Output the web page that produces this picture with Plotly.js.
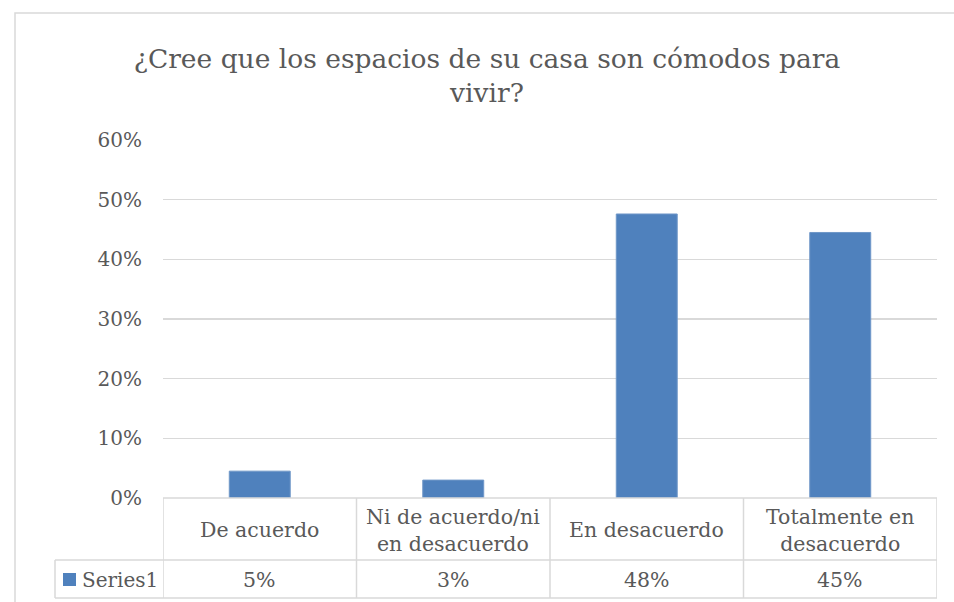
<!DOCTYPE html>
<html>
<head>
<meta charset="utf-8">
<script src="https://cdn.plot.ly/plotly-3.0.1.min.js"></script>
<style>html,body{margin:0;padding:0;background:#fff;}#chart{width:954px;height:602px;}</style>
</head>
<body>
<div id="chart"></div>
<script>
// ---- data ----
const categories = ["De acuerdo", "Ni de acuerdo/ni en desacuerdo", "En desacuerdo", "Totalmente en desacuerdo"];
const categoryLabels = ["De acuerdo", "Ni de acuerdo/ni<br>en desacuerdo", "En desacuerdo", "Totalmente en<br>desacuerdo"];
const seriesName = "Series1";
const seriesValues = [0.045, 0.03, 0.476, 0.445];
const tableValueLabels = ["5%", "3%", "48%", "45%"];
const titleText = "¿Cree que los espacios de su casa son cómodos para<br>vivir?";

// ---- layout geometry ----
const W = 954, H = 602;
const ML = 163, MR = 17, MT = 140, MB = 104;
const PW = W - ML - MR, PH = H - MT - MB;
const px = x => (x - ML) / PW;
const py = y => (H - MB - y) / PH;

const font = "DejaVu Serif";
const grey = "#595959";
const lineCol = "#d9d9d9";
const barCol = "#4f81bd";

const trace = {
  type: "bar",
  x: categories.map((c, i) => i),
  y: seriesValues,
  name: seriesName,
  width: 0.315,
  marker: { color: barCol, line: { color: "#6f97c8", width: 1 } },
  hoverinfo: "skip",
  showlegend: false
};

const shapes = [];
const hline = (x0, x1, y, xref) => shapes.push({ type: "line", xref: xref || "paper", yref: "paper",
  x0: x0, x1: x1, y0: py(y), y1: py(y), line: { color: lineCol, width: 1.5 } });
const vline = (x, y0, y1, xref) => shapes.push({ type: "line", xref: xref || "paper", yref: "paper",
  x0: x, x1: x, y0: py(y0), y1: py(y1), line: { color: lineCol, width: 1.5 } });

// data table grid
hline(px(ML), 1, 498);
hline(px(55), 1, 560);
hline(px(55), 1, 598);
vline(px(55), 560, 598);
for (let i = 0; i <= categories.length; i++) vline(i - 0.5, 498, 598, "x");
// outer chart border
shapes.push({ type: "rect", xref: "paper", yref: "paper", x0: px(15), x1: px(960), y0: py(610), y1: py(13),
  line: { color: lineCol, width: 1.5 }, fillcolor: "rgba(0,0,0,0)", layer: "below" });
// legend key
shapes.push({ type: "rect", xref: "paper", yref: "paper", x0: px(63), x1: px(76), y0: py(586), y1: py(573),
  line: { width: 0 }, fillcolor: barCol });

const annotations = [];
categoryLabels.forEach((lab, i) => annotations.push({
  x: i, xref: "x", y: py(530), yref: "paper", text: lab, showarrow: false,
  xanchor: "center", yanchor: "middle", font: { family: font, size: 20.5, color: grey }
}));
tableValueLabels.forEach((lab, i) => annotations.push({
  x: i, xref: "x", y: py(580), yref: "paper", text: lab, showarrow: false,
  xanchor: "center", yanchor: "middle", font: { family: font, size: 20.5, color: grey }
}));
annotations.push({ x: px(80), xref: "paper", y: py(580), yref: "paper", text: seriesName, showarrow: false,
  xanchor: "left", yanchor: "middle", font: { family: font, size: 20, color: grey } });

const layout = {
  width: W, height: H,
  margin: { l: ML, r: MR, t: MT, b: MB, pad: 0 },
  paper_bgcolor: "#fff", plot_bgcolor: "#fff",
  font: { family: font, color: grey },
  title: { text: titleText, x: 487 / W, xanchor: "center", xref: "container",
    y: 1 - 68 / H, yanchor: "top", yref: "container",
    font: { family: font, size: 26.5, color: grey } },
  xaxis: { range: [-0.5, 3.5], showticklabels: false, showgrid: false, zeroline: false, showline: false, ticks: "" },
  yaxis: { range: [0, 0.6], dtick: 0.1, tick0: 0, tickformat: ".0%", showgrid: true, gridcolor: lineCol, gridwidth: 1.5,
    zeroline: false, showline: false, ticks: "", ticklabelstandoff: 20,
    tickfont: { family: font, size: 20, color: grey } },
  shapes: shapes,
  annotations: annotations,
  showlegend: false,
  bargap: 0.685
};

Plotly.newPlot("chart", [trace], layout, { displayModeBar: false, staticPlot: true });
</script>
</body>
</html>
